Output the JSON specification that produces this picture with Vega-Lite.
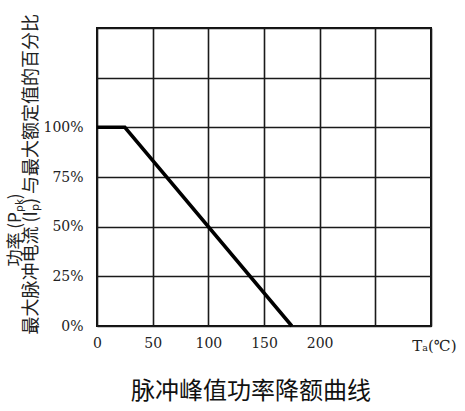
{
  "$schema": "https://vega.github.io/schema/vega-lite/v6.json",
  "autosize": {"type": "none"},
  "padding": {"left": 97, "top": 28, "right": 34, "bottom": 85},
  "width": 334,
  "height": 298,
  "background": "white",
  "title": {
    "text": "脉冲峰值功率降额曲线",
    "orient": "bottom",
    "anchor": "middle",
    "font": "Noto Sans CJK SC",
    "fontSize": 24,
    "fontWeight": "normal",
    "color": "#111",
    "offset": 27,
    "dx": -13
  },
  "config": {
    "view": {"stroke": "#111", "strokeWidth": 2},
    "axis": {
      "domain": false,
      "ticks": false,
      "labelFont": "DejaVu Serif",
      "labelFontSize": 14,
      "labelColor": "#222",
      "titleFont": "Noto Sans CJK SC",
      "titleFontWeight": "normal",
      "titleColor": "#222"
    }
  },
  "data": {
    "values": [
      {"t": 0, "p": 1.0},
      {"t": 25, "p": 1.0},
      {"t": 175, "p": 0.0}
    ]
  },
  "resolve": {"axis": {"y": "independent"}},
  "layer": [
    {
      "mark": {"type": "line", "color": "#000", "strokeWidth": 3.5},
      "encoding": {
        "x": {
          "field": "t",
          "type": "quantitative",
          "scale": {"domain": [0, 300], "nice": false, "zero": true},
          "axis": {
            "grid": true,
            "gridColor": "#1a1a1a",
            "gridWidth": 1.6,
            "gridOpacity": 1,
            "values": [0, 50, 100, 150, 200, 250, 300],
            "labelExpr": "datum.value <= 200 ? datum.label : ''",
            "labelPadding": 10,
            "labelFlush": false,
            "title": "Tₐ(℃)",
            "titleFont": "DejaVu Serif",
            "titleFontSize": 15,
            "titleAnchor": "end",
            "titleAlign": "right",
            "titleX": 359,
            "titleY": 12
          }
        },
        "y": {
          "field": "p",
          "type": "quantitative",
          "scale": {"domain": [0, 1.5], "nice": false},
          "axis": {
            "grid": true,
            "gridColor": "#1a1a1a",
            "gridWidth": 1.6,
            "gridOpacity": 1,
            "values": [0, 0.25, 0.5, 0.75, 1, 1.25, 1.5],
            "labelExpr": "datum.value <= 1 ? format(datum.value, '.0%') : ''",
            "labelPadding": 14,
            "title": "最大脉冲电流 (Iₚ) 与最大额定值的百分比",
            "titleFontSize": 18,
            "titleAngle": -90,
            "titleAlign": "left",
            "titleBaseline": "top",
            "titleX": -75,
            "titleY": 306
          }
        }
      }
    },
    {
      "mark": {"type": "line", "strokeOpacity": 0},
      "encoding": {
        "x": {"field": "t", "type": "quantitative"},
        "y": {
          "field": "p",
          "type": "quantitative",
          "axis": {
            "orient": "right",
            "grid": false,
            "labels": false,
            "values": [0, 0.5, 1],
            "title": "功率 (Pₚₖ)",
            "titleFontSize": 17,
            "titleAngle": -90,
            "titleAlign": "left",
            "titleBaseline": "top",
            "titleX": -424,
            "titleY": 238
          }
        }
      }
    }
  ]
}
